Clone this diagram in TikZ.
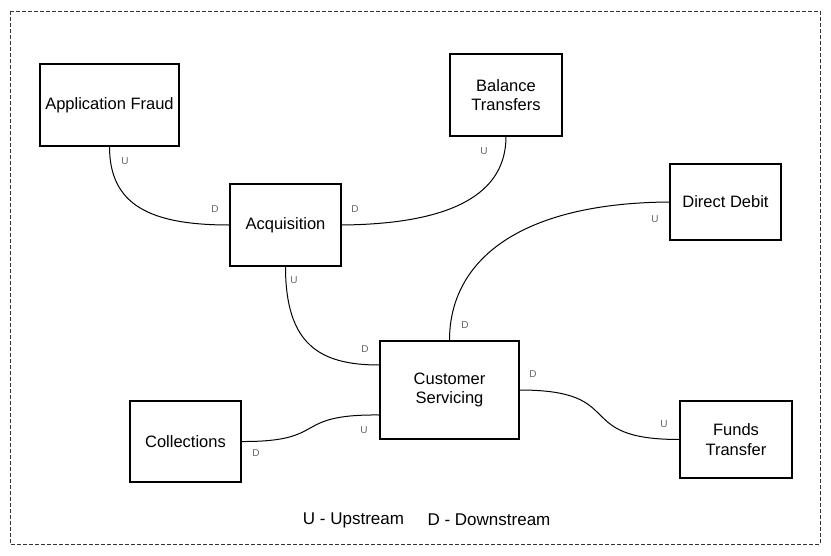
\documentclass[tikz,border=0pt]{standalone}
\usepackage{fontspec}
\setmainfont{Liberation Sans}
\begin{document}
\begin{tikzpicture}[x=1pt,y=-1pt,
  box/.style={draw=black, line width=1.1pt, fill=white, inner sep=2pt, align=center,
    font=\fontsize{16.5}{19.5}\selectfont},
  conn/.style={draw=black, line width=1pt},
  lbl/.style={text=black!60, font=\fontsize{10}{12}\selectfont, inner sep=0pt},
  legend/.style={font=\fontsize{17}{20}\selectfont, inner sep=0pt}]
\useasboundingbox (0,0) rectangle (831,555);
\draw[black!80, line width=0.8pt, dash pattern=on 4pt off 2pt] (10,11) rectangle (820,544);

\node[box, minimum width=139pt, minimum height=82pt] (af) at (109.5,105) {Application Fraud};
\node[box, minimum width=111pt, minimum height=82pt] (acq) at (285.5,225) {Acquisition};
\node[box, minimum width=112pt, minimum height=82pt] (bt) at (506,95) {Balance\\Transfers};
\node[box, minimum width=111pt, minimum height=76pt] (dd) at (725.5,202) {Direct Debit};
\node[box, minimum width=139pt, minimum height=98pt] (cs) at (449.5,390) {Customer\\Servicing};
\node[box, minimum width=111pt, minimum height=81pt] (col) at (185.5,441.5) {Collections};
\node[box, minimum width=112pt, minimum height=77pt] (ft) at (736,439.5) {Funds\\Transfer};

\draw[conn] (af.south) .. controls (109.5,205) and (150,225) .. (acq.west);
\draw[conn] (acq.east) .. controls (450,224) and (506,195) .. (bt.south);
\draw[conn] (acq.south) .. controls (285.5,345) and (320,365) .. ([yshift=25pt]cs.west);
\draw[conn] (dd.west) .. controls (520,203) and (449.5,260) .. (cs.north);
\draw[conn] ([yshift=-25pt]cs.west) .. controls (290,414) and (330,442) .. (col.east);
\draw[conn] (cs.east) .. controls (630,390) and (570,439.5) .. (ft.west);

\node[lbl] (l1) at (125,161) {U};
\node[lbl] (l2) at (215,209) {D};
\node[lbl] (l3) at (355,209) {D};
\node[lbl] (l4) at (484,151) {U};
\node[lbl] (l5) at (294,280) {U};
\node[lbl] (l6) at (365,349) {D};
\node[lbl] (l7) at (655,219) {U};
\node[lbl] (l8) at (465,325) {D};
\node[lbl] (l9) at (364,430) {U};
\node[lbl] (l10) at (256,453) {D};
\node[lbl] (l11) at (533,374) {D};
\node[lbl] (l12) at (664,424) {U};

\node[legend] (leg1) at (353.5,520) {U - Upstream};
\node[legend] (leg2) at (489,520) {D - Downstream};
\end{tikzpicture}
\end{document}
